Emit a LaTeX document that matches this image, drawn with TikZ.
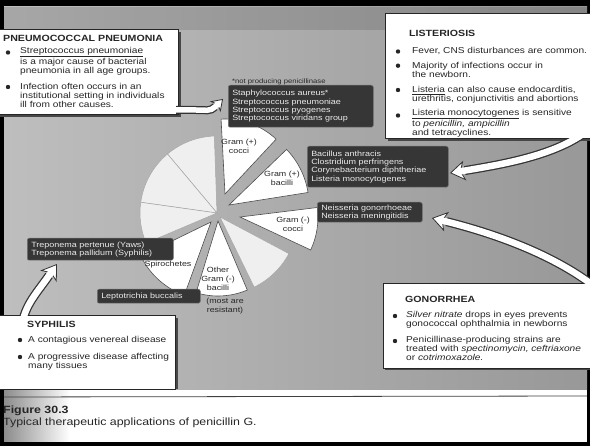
\documentclass[tikz,border=0pt]{standalone}
\usepackage{fontspec}
\setmainfont{Liberation Sans}[FakeStretch=1.18]
\usetikzlibrary{arrows.meta,calc}
\definecolor{bgL}{HTML}{BEBEBE}
\definecolor{bgR}{HTML}{989898}
\definecolor{dboxc}{HTML}{363636}
\definecolor{ink}{HTML}{262626}
\definecolor{palew}{HTML}{EFEFEF}
\newcommand\myW{\fontsize{8.6}{8.8}\selectfont}
\newcommand\myT{\fontsize{9}{10}\selectfont\bfseries}
\newcommand\myD{\fontsize{7.6}{8.4}\selectfont}
\newcommand\myG{\fontsize{7.5}{9}\selectfont}
\newcommand\myS{\fontsize{6.5}{7}\selectfont}
\newcommand\myC{\fontsize{10.5}{12}\selectfont}
\newcommand\pieslice[5]{%
  \filldraw[#1] #2 -- ++({-(#3)}:#5) arc[start angle={-(#3)}, end angle={-(#4)}, radius=#5] -- cycle;}
\tikzset{
  wbox/.style={fill=white, draw=black!85, line width=0.7pt},
  shadowbox/.style={fill=black!72},
  dbox/.style={fill=dboxc, draw=black!55, rounded corners=2pt, line width=0.5pt,
    text=white!92!black, font=\myD, align=left, inner xsep=4pt, inner ysep=0pt, anchor=north west},
  wedge/.style={fill=white, draw=black!70, line width=0.6pt},
  pale/.style={fill=palew, draw=black!35, line width=0.5pt},
  glabel/.style={font=\myG, text=ink, align=center, inner sep=0pt},
  wtext/.style={font=\myW, text=ink, align=left, inner sep=0pt, anchor=base west},
  wtitle/.style={font=\myT, text=ink, inner sep=0pt, anchor=base west},
  ribout/.style={draw=black!80, line width=9pt},
  ribin/.style={draw=white, line width=6.5pt},
  riboutS/.style={draw=black!80, line width=8pt},
  ribinS/.style={draw=white, line width=5.5pt},
  rheadA/.style={draw=black!80, line width=0.8pt, -{Stealth[length=15pt, width=20pt, inset=4pt, fill=white]}},
  rheadB/.style={draw=black!80, line width=0.8pt, -{Stealth[length=11pt, width=15pt, inset=3pt, fill=white]}},
}
\begin{document}
\begin{tikzpicture}[x=1pt,y=-1pt]
\useasboundingbox (0,0) rectangle (590,446);
\begin{scope}
\clip (0,0) rectangle (590,446);
% frame and background
\fill[black] (0,0) rectangle (590,446);
\shade[left color=bgL, right color=bgR] (4,7) rectangle (587,390);
\fill[black, opacity=0.12] (4,7) rectangle (587,30);
\fill[white] (4,390) rectangle (587,442);
\shade[left color=black!45, right color=white] (4,390) rectangle (70,442);
\draw[black!75, line width=0.8pt] (4,397) -- (587,396);

% pie
\pieslice{pale}{(217,213)}{92}{130}{77}
\pieslice{pale}{(217,213)}{130}{172}{77}
\pieslice{pale}{(217,213)}{172}{203}{77}
\pieslice{wedge}{(211,222)}{206}{250}{78}
\pieslice{wedge}{(218,221)}{253}{293}{75}
\pieslice{pale}{(220,217)}{296}{332}{78}
\pieslice{wedge}{(240,217)}{-25}{7}{78}
\pieslice{wedge}{(229,205)}{9}{44}{80}
\pieslice{wedge}{(225,194)}{47}{93}{75}

% arrow coordinates
\coordinate (lS) at (606,112); \coordinate (lB) at (464.8,170.6); \coordinate (lT) at (450,173);
\coordinate (gS) at (606,296); \coordinate (gB) at (446.5,221.6); \coordinate (gT) at (432,218);
\coordinate (sS) at (22,325);  \coordinate (sB) at (49,275.5);    \coordinate (sT) at (57,264);
\coordinate (pS) at (176,110); \coordinate (pS2) at (163,110); \coordinate (pB) at (215.2,106.8); \coordinate (pT) at (223,99);

% shadows
\fill[shadowbox] (388,16) rectangle (600,141);
\fill[shadowbox] (-5,32) rectangle (181,117);
\fill[shadowbox] (385,285) rectangle (600,370);
\fill[shadowbox] (-5,318) rectangle (178,389);

% outer ribbons
\draw[ribout] (lS) .. controls (578,152) and (510,163) .. (lB);
\draw[ribout] (gS) .. controls (560,255) and (490,232.5) .. (gB);
\draw[ribout] (sS) .. controls (25,305) and (36.4,293.5) .. (sB);

% white boxes
\filldraw[wbox] (385,13) rectangle (600,138);
\filldraw[wbox] (-5,29) rectangle (178,114);
\filldraw[wbox] (383,283) rectangle (600,368);
\filldraw[wbox] (-5,315) rectangle (175,389);

\draw[riboutS] (pS) -- (196,110) .. controls (205,110) and (210.2,111.8) .. (pB);

% heads
\draw[rheadA] (lB) -- (lT);
\draw[rheadA] (gB) -- (gT);
\draw[rheadA] (sB) -- (sT);
\draw[rheadB] (pB) -- (pT);

% inner ribbons
\draw[ribin] (lS) .. controls (578,152) and (510,163) .. (lB) -- ($(lB)!0.4!(lT)$);
\draw[ribin] (gS) .. controls (560,255) and (490,232.5) .. (gB) -- ($(gB)!0.4!(gT)$);
\draw[ribin] (sS) .. controls (25,305) and (36.4,293.5) .. (sB) -- ($(sB)!0.4!(sT)$);
\draw[ribinS] (pS2) -- (196,110) .. controls (205,110) and (210.2,111.8) .. (pB) -- ($(pB)!0.4!(pT)$);

% dark boxes
\node[dbox, text width=137pt, minimum height=42pt] (staph) at (228,85)
  {Staphylococcus aureus*\\Streptococcus pneumoniae\\Streptococcus pyogenes\\Streptococcus viridans group};
\node[dbox, text width=133pt, minimum height=41pt] (bac) at (307,146)
  {Bacillus anthracis\\Clostridium perfringens\\Corynebacterium diphtheriae\\Listeria monocytogenes};
\node[dbox, text width=97pt, minimum height=20pt] (neis) at (317,202)
  {Neisseria gonorrhoeae\\Neisseria meningitidis};
\node[dbox, text width=138pt, minimum height=22pt] (trep) at (27,238)
  {Treponema pertenue (Yaws)\\Treponema pallidum (Syphilis)};
\node[dbox, text width=95pt, minimum height=14pt] (lept) at (97,289)
  {Leptotrichia buccalis};
\node[font=\myS, text=ink, anchor=base west, inner sep=0pt] (npp) at (232,83.5) {*not producing penicillinase};

% pie labels
\node[glabel] (gpc) at (239,146) {Gram (+)\\cocci};
\node[glabel] (gpb) at (282,178) {Gram (+)\\bacilli};
\node[glabel] (gnc) at (293,224) {Gram (-)\\cocci};
\node[glabel] (spi) at (168,265) {Spirochetes};
\node[glabel] (ogb) at (218,279) {Other\\Gram (-)\\bacilli};
\node[glabel] (mar) at (225,306) {(most are\\resistant)};

% Listeriosis (anchor = baseline of last line)
\node[wtitle] (lisT) at (409,37) {LISTERIOSIS};
\node[wtext] (lis1) at (412,53.5) {Fever, CNS disturbances are common.};
\node[wtext] (lis2) at (412,77.3) {Majority of infections occur in\\the newborn.};
\node[wtext] (lis3) at (412,101.8) {\underline{Listeria} can also cause endocarditis,\\urethritis, conjunctivitis and abortions};
\node[wtext] (lis4) at (412,135.3) {\underline{Listeria monocytogenes} is sensitive\\to \textit{penicillin, ampicillin}\\and tetracyclines.};
\foreach \yy in {51.5,65.7,90,115.5} \fill[ink] (398,\yy) circle[radius=2.2];

% Pneumococcal
\node[wtitle] (pnT) at (3,41.5) {PNEUMOCOCCAL PNEUMONIA};
\node[wtext] (pn1) at (20,73.1) {\underline{Streptococcus pneumoniae}\\is a major cause of bacterial\\pneumonia in all age groups.};
\node[wtext] (pn2) at (20,107.6) {Infection often occurs in an\\institutional setting in individuals\\ill from other causes.};
\foreach \yy in {52.5,87} \fill[ink] (8,\yy) circle[radius=2.2];

% Gonorrhea
\node[wtitle] (goT) at (405,303) {GONORRHEA};
\node[wtext] (go1) at (406,326.8) {\textit{Silver nitrate} drops in eyes prevents\\gonococcal ophthalmia in newborns};
\node[wtext] (go2) at (406,360.6) {Penicillinase-producing strains are\\treated with \textit{spectinomycin, ceftriaxone}\\or \textit{cotrimoxazole.}};
\foreach \yy in {316,341} \fill[ink] (395,\yy) circle[radius=2.2];

% Syphilis
\node[wtitle] (syT) at (27,327.5) {SYPHILIS};
\node[wtext] (sy1) at (28,343) {A contagious venereal disease};
\node[wtext] (sy2) at (28,368.8) {A progressive disease affecting\\many tissues};
\foreach \yy in {340,357} \fill[ink] (20,\yy) circle[radius=2.2];

% caption
\node[font=\myC\bfseries, text=black!85, anchor=base west, inner sep=0pt] (figl) at (3,414) {Figure 30.3};
\node[font=\myC, text=black!85, anchor=base west, inner sep=0pt] (figc) at (3,425.5) {Typical therapeutic applications of penicillin G.};
\end{scope}
\end{tikzpicture}
\end{document}
